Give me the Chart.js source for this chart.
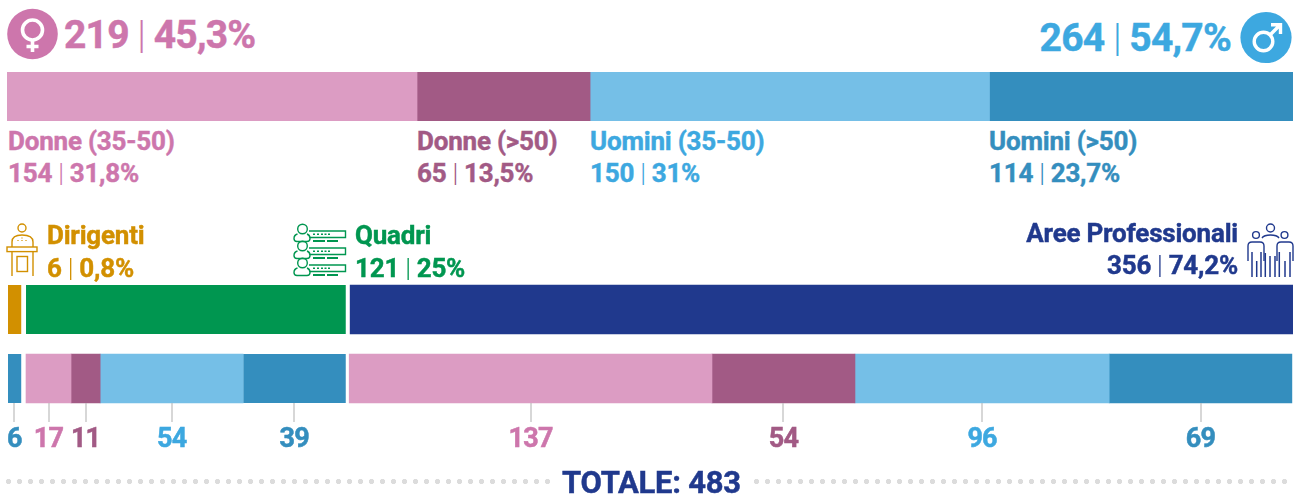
<!DOCTYPE html>
<html>
<head>
<meta charset="utf-8">
<script src="https://cdn.jsdelivr.net/npm/chart.js@4"></script>
<style>
  html, body { margin: 0; padding: 0; background: #fff; }
  #page { position: relative; width: 1299px; height: 495px; overflow: hidden; font-family: Roboto, sans-serif; font-weight: 700; }
  canvas { position: absolute; left: 0; }
  .lbl { position: absolute; white-space: nowrap; line-height: 1; -webkit-text-stroke: 0.45px currentColor; }
  .lbl i { font-style: normal; font-weight: 300; -webkit-text-stroke: 0; margin: 0 -0.01em; }
  .dots { position: absolute; top: 479px; height: 5px; background: radial-gradient(circle at 2.5px 2.5px, #dcdcdc 2.4px, transparent 2.9px) 0 0 / 11px 5px repeat-x; }
  svg { position: absolute; overflow: visible; }
</style>
</head>
<body>
<div id="page">
  <canvas id="genderBar" width="1299" height="49" style="top:72px"></canvas>
  <canvas id="roleBar" width="1299" height="220" style="top:275px"></canvas>

  <svg style="left:0;top:0" width="70" height="70">
    <circle cx="32.5" cy="34" r="25.3" fill="#cd76ac"/>
    <g fill="none" stroke="#fff" stroke-width="3.6">
      <circle cx="32.5" cy="30" r="10"/>
      <path d="M32.5 40V52M26.500 46.500H38.500"/>
    </g>
  </svg>
  <svg style="left:1230px;top:0" width="69" height="70">
    <circle cx="36" cy="37.5" r="25.6" fill="#3da8e0"/>
    <g fill="none" stroke="#fff" stroke-width="3.4">
      <circle cx="33.5" cy="41.5" r="9.3"/>
      <path d="M40 35L50 25M41 24.700H50.500V34"/>
    </g>
  </svg>

  <svg style="left:6px;top:223px" width="33" height="55" fill="none" stroke="#d29000" stroke-width="1.4">
    <circle cx="16" cy="5" r="4"/>
    <path d="M6 24V19Q6 12 16 12Q27 12 27 19V24"/>
    <path d="M16 14.500v1M12 17v1M16 17v1M20 17v1" stroke-width="1.2"/>
    <rect x="1" y="24" width="30" height="4.6"/>
    <path d="M6 28.600V53M27 28.600V53"/>
    <rect x="11" y="33.500" width="10.5" height="15"/>
  </svg>

  <svg style="left:293px;top:223px" width="54" height="55" fill="none" stroke="#009650" stroke-width="1.4">
    <g id="quadriRow">
      <circle cx="9.500" cy="6" r="4.800"/>
      <path d="M4.500 11Q1 12 1 15.500Q1 18.500 4 18.500H14Q17 18.500 17 15.500Q17 12 14 11"/>
      <path d="M16 8H52.500V14.500H17"/>
      <path d="M20 11.300h2M24 11.300h2M28 11.300h2M31.500 11.300h2M35 11.300h2" stroke-width="1.600"/>
      <path d="M20 18H32M34 18H45" stroke-width="1.800"/>
    </g>
    <use href="#quadriRow" y="17"/>
    <use href="#quadriRow" y="34"/>
  </svg>

  <svg style="left:1247px;top:223px" width="48" height="55" fill="none" stroke="#20398d" stroke-width="1.4">
    <circle cx="23.500" cy="5" r="4"/>
    <circle cx="9" cy="12" r="3.400"/>
    <circle cx="37.500" cy="12" r="3.400"/>
    <path d="M1 38V23Q1 19 5 19H13Q17 19 17 23V38M30 38V23Q30 19 34 19H42Q46 19 46 23V38"/>
    <path d="M15 15Q17 12 23.500 12Q30 12 32 15"/>
    <path d="M5 29V54M9.700 38V54M14 29V54M18.300 30V54M23 33V54M28 33V54M32.300 29V54M38 38V54M43 29V54" stroke-width="1.500"/>
  </svg>

  <div class="dots" style="left:6px;width:550px"></div>
  <div class="dots" style="left:754px;width:539px"></div>
</div>

<script>
// numbers
const genderCategory = ['Genere'];
const ageNames = ['Donne (35-50)', 'Donne (>50)', 'Uomini (35-50)', 'Uomini (>50)'];
const ageValues = [154, 65, 150, 114];
const agePercents = ['31,8%', '13,5%', '31%', '23,7%'];

const roleCategories = ['Inquadramento', 'Dettaglio'];
const roleNames = ['Dirigenti', 'Quadri', 'Aree Professionali'];
const roleValues = [6, 121, 356];
const rolePercents = ['0,8%', '25%', '74,2%'];
const dirigentiSplit = [6];
const quadriSplit = [17, 11, 54, 39];
const areeSplit = [137, 54, 96, 69];

const genderTotals = [219, 264];
const genderPercents = ['45,3%', '54,7%'];
const total = 483;

// colours
const PINK = '#dc9cc3', PLUM = '#a25a85', SKY = '#75bfe7', BLUE = '#348ebe';
const ageColors = [PINK, PLUM, SKY, BLUE];
const ageText = ['#cd76ac', '#a25a85', '#3da8e0', '#348ebe'];
const roleColors = ['#d29000', '#009650', '#20398d'];

Chart.defaults.animation = false;

const genderChart = new Chart(document.getElementById('genderBar'), {
  type: 'bar',
  data: {
    labels: genderCategory,
    datasets: ageValues.map((v, i) => ({ label: ageNames[i], data: [v], backgroundColor: ageColors[i] }))
  },
  options: {
    indexAxis: 'y',
    responsive: false,
    layout: { padding: { left: 7, right: 6 } },
    barPercentage: 1,
    categoryPercentage: 1,
    plugins: { legend: { display: false }, tooltip: { enabled: false } },
    scales: {
      x: { stacked: true, display: false, min: 0, max: total },
      y: { stacked: true, display: false }
    }
  }
});

// lower chart: row one is the three roles, row two their split by gender and age
const roleDatasets = [];
function addBlock(roleIndex, split, tail) {
  roleDatasets.push({
    label: roleNames[roleIndex],
    data: [roleValues[roleIndex], null],
    backgroundColor: roleColors[roleIndex],
    borderColor: '#fff',
    borderWidth: { right: tail }
  });
  split.forEach((v, i) => {
    const col = split.length == 1 ? 3 : i;
    const end = i == split.length - 1 ? tail : 0;
    roleDatasets.push({
      label: roleNames[roleIndex] + ' ' + ageNames[col],
      data: [null, v],
      backgroundColor: ageColors[col],
      borderColor: '#fff',
      borderWidth: { right: end },
      tickColor: split.length == 1 ? ageText[3] : ageText[i],
      tickShift: end / 2
    });
  });
}
// white space between the role blocks, one value per row
function addGap(g) {
  roleDatasets.push({ label: 'gap', data: g, backgroundColor: 'transparent' });
}
addBlock(0, dirigentiSplit, 3);
addGap([0.8, 0.8]);
addBlock(1, quadriSplit, 1);
addGap([1.4, 1.05]);
addBlock(2, areeSplit, 0);

const splitTicks = {
  id: 'splitTicks',
  afterDatasetsDraw(chart) {
    const ctx = chart.ctx;
    ctx.save();
    chart.data.datasets.forEach((ds, d) => {
      if (!ds.tickColor) return;
      const bar = chart.getDatasetMeta(d).data[1];
      const x = (bar.x + bar.base) / 2 - ds.tickShift;
      const bottom = bar.y + bar.height / 2;
      ctx.strokeStyle = '#bdbdbd';
      ctx.lineWidth = 1.2;
      ctx.beginPath();
      ctx.moveTo(Math.round(x), bottom);
      ctx.lineTo(Math.round(x), bottom + 19);
      ctx.stroke();
      ctx.fillStyle = ds.tickColor;
      ctx.strokeStyle = ds.tickColor;
      ctx.lineWidth = 0.5;
      ctx.font = '700 27px Roboto';
      ctx.letterSpacing = '-0.8px';
      ctx.textAlign = 'center';
      ctx.textBaseline = 'alphabetic';
      ctx.fillText(ds.data[1], x, bottom + 44);
      ctx.strokeText(ds.data[1], x, bottom + 44);
    });
    ctx.restore();
  }
};

const roleChart = new Chart(document.getElementById('roleBar'), {
  type: 'bar',
  data: { labels: roleCategories, datasets: roleDatasets },
  plugins: [splitTicks],
  options: {
    indexAxis: 'y',
    responsive: false,
    layout: { padding: { left: 7, right: 6, bottom: 82 } },
    barThickness: 49,
    plugins: { legend: { display: false }, tooltip: { enabled: false } },
    scales: {
      x: { stacked: true, display: false, min: -0.38, max: 485.27 },
      y: { stacked: true, display: false }
    }
  }
});

// text
const page = document.getElementById('page');
function label(html, color, size, x, midY, right) {
  const el = document.createElement('div');
  el.className = 'lbl';
  el.innerHTML = html;
  el.style.color = color;
  el.style.fontSize = size + 'px';
  el.style.letterSpacing = (size > 35 ? -0.02 * size : -0.008 * size) + 'px';
  el.style[right ? 'right' : 'left'] = (right ? 1299 - x : x) + 'px';
  el.style.top = (midY - size / 2) + 'px';
  page.appendChild(el);
}
const pair = (a, b) => a + ' <i>|</i> ' + b;

label(pair(genderTotals[0], genderPercents[0]), ageText[0], 39, 64, 35);
label(pair(genderTotals[1], genderPercents[1]), ageText[2], 39, 1231, 38, true);

ageValues.forEach((v, i) => {
  const left = genderChart.getDatasetMeta(i).data[0].base;
  const x = Math.round(left) + (i == 0 ? 1 : 0);
  label(ageNames[i], ageText[i], 26, x, 141);
  label(pair(v, agePercents[i]), ageText[i], 26, x, 173);
});

label(roleNames[0], roleColors[0], 26, 47, 235);
label(pair(roleValues[0], rolePercents[0]), roleColors[0], 26, 47, 268);
label(roleNames[1], roleColors[1], 26, 355, 235);
label(pair(roleValues[1], rolePercents[1]), roleColors[1], 26, 355, 268);
label(roleNames[2], roleColors[2], 26, 1238, 233, true);
label(pair(roleValues[2], rolePercents[2]), roleColors[2], 26, 1238, 265, true);

label('TOTALE: ' + total, roleColors[2], 31, 562, 482);
</script>
</body>
</html>
